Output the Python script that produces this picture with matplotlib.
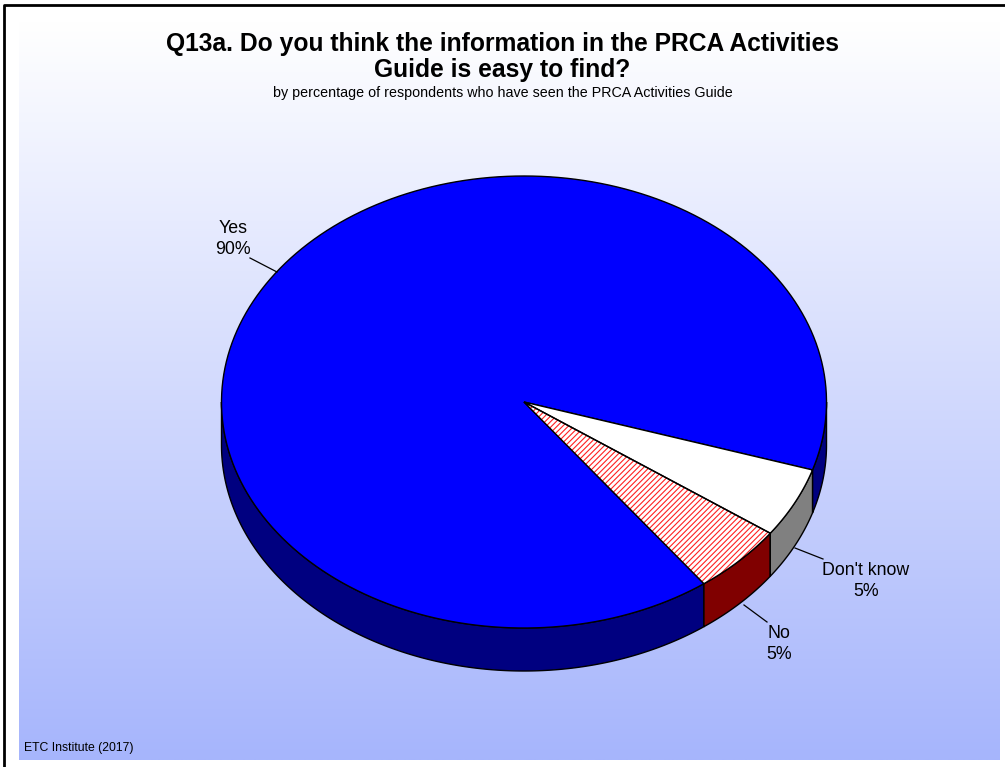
import numpy as np
import matplotlib.pyplot as plt
from matplotlib.patches import Polygon
import matplotlib.colors as mcolors

# Datos de la encuesta
labels = ['Yes', 'No', "Don't know"]
values = [90, 5, 5]
top_colors = ['#0000FF', '#FFFFFF', '#FFFFFF']
side_colors = ['#000080', '#800000', '#808080']
hatches = [None, '//////', None]

plt.rcParams['font.family'] = ['Liberation Sans', 'DejaVu Sans']
plt.rcParams['hatch.linewidth'] = 0.8

W, H = 1005, 767
fig = plt.figure(figsize=(W / 100, H / 100), dpi=100)
ax = fig.add_axes([0, 0, 1, 1])
ax.set_xlim(0, W)
ax.set_ylim(H, 0)
ax.axis('off')

# Fondo degradado (blanco arriba, azul claro abajo)
top_rgb = np.array(mcolors.to_rgb('#FFFFFF'))
bot_rgb = np.array(mcolors.to_rgb('#A6B5FC'))
t = np.linspace(0, 1, 256)[:, None]
grad = (1 - t) * top_rgb + t * bot_rgb
ax.imshow(grad[:, None, :].repeat(2, axis=1), extent=(19, 1000, 760, 21),
          aspect='auto', zorder=0, interpolation='bilinear')

# Marco
ax.plot([4, 4, W], [H, 5, 5], color='black', lw=2, zorder=1, solid_capstyle='butt')

# Geometria del pastel 3D
cx, cy, rx, ry, depth = 524, 402, 302.5, 226, 43
start = -17.5


def ellipse_pts(a0, a1, dy=0, n=200):
    th = np.radians(np.linspace(a0, a1, n))
    return np.column_stack([cx + rx * np.cos(th), cy - ry * np.sin(th) + dy])


# Angulos de cada porcion (sentido antihorario)
angles = []
a = start
for v in values:
    span = 360.0 * v / sum(values)
    angles.append((a, a + span))
    a += span

# Paredes laterales visibles (mitad delantera: 180..360)
for (a0, a1), sc in zip(angles, side_colors):
    for k in (-1, 0, 1):
        lo = max(a0, 180 + 360 * k)
        hi = min(a1, 360 + 360 * k)
        if hi > lo:
            upper = ellipse_pts(lo, hi)
            lower = ellipse_pts(hi, lo, dy=depth)
            ax.add_patch(Polygon(np.vstack([upper, lower]), closed=True,
                                 facecolor=sc, edgecolor='black', lw=1, zorder=2))

# Caras superiores
for (a0, a1), tc, hc in zip(angles, top_colors, hatches):
    pts = np.vstack([[cx, cy], ellipse_pts(a0, a1)])
    if hc:
        ax.add_patch(Polygon(pts, closed=True, facecolor='white', edgecolor='#FF2020',
                             hatch=hc, lw=0, zorder=3))
        ax.add_patch(Polygon(pts, closed=True, facecolor='none', edgecolor='black',
                             lw=1, zorder=4))
    else:
        ax.add_patch(Polygon(pts, closed=True, facecolor=tc, edgecolor='black',
                             lw=1, zorder=3))

# Etiquetas con lineas guia
label_pos = [(233, 239), (779, 644), (866, 581)]
leaders = [((250, 258), (277, 272)), ((767, 622), (744, 605)), ((823, 559), (795, 548))]
for lab, v, (lx, ly), (p0, p1) in zip(labels, values, label_pos, leaders):
    ax.text(lx, ly, f'{lab}\n{v}%', ha='center', va='center', fontsize=12.8,
            linespacing=1.25, zorder=5)
    ax.plot([p0[0], p1[0]], [p0[1], p1[1]], color='black', lw=0.9, zorder=5)

# Titulos
ax.text(502, 57, 'Q13a. Do you think the information in the PRCA Activities\nGuide is easy to find?',
        ha='center', va='center', fontsize=17.7, fontweight='bold', linespacing=1.12)
ax.text(503, 93, 'by percentage of respondents who have seen the PRCA Activities Guide',
        ha='center', va='center', fontsize=10.3)
ax.text(24, 748, 'ETC Institute (2017)', ha='left', va='center', fontsize=8.8)

fig.savefig('out.png', dpi=100)
